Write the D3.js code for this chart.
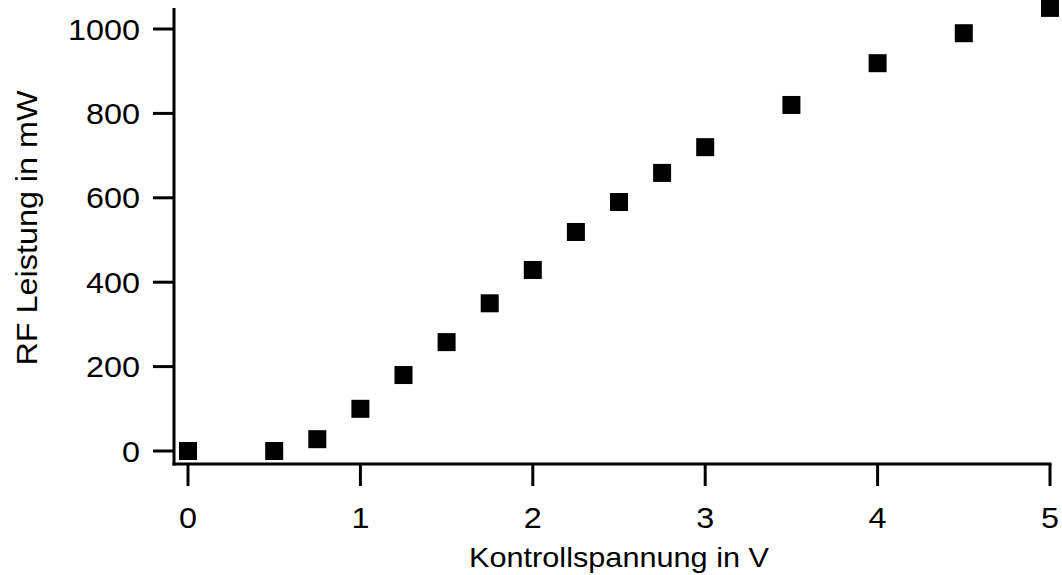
<!DOCTYPE html>
<html>
<head>
<meta charset="utf-8">
<script src="https://cdn.jsdelivr.net/npm/d3@7.9.0/dist/d3.min.js"></script>
<style>
  body { margin: 0; background: #fff; }
  svg { display: block; font-family: "Liberation Sans", Arial, sans-serif; }
</style>
</head>
<body>
<svg width="1062" height="575"></svg>
<script>
// data
const voltage = [0, 0.5, 0.75, 1, 1.25, 1.5, 1.75, 2, 2.25, 2.5, 2.75, 3, 3.5, 4, 4.5, 5];
const power   = [0, 0, 28, 100, 180, 258, 350, 429, 519, 590, 659, 720, 820, 919, 990, 1050];
const xTicks = [0, 1, 2, 3, 4, 5];
const yTicks = [0, 200, 400, 600, 800, 1000];

const svg = d3.select('svg');

let x = d3.scaleLinear().domain([0, 5]).range([188, 1050]);
let y = d3.scaleLinear().domain([0, 1000]).range([451, 29]);

const axisX = 174, axisY = 464, topY = 8;
const fs = 29.5;

// axis lines
svg.append('line')
    .attr('x1', axisX).attr('x2', axisX)
    .attr('y1', topY).attr('y2', axisY + 1.5)
    .attr('stroke', '#000').attr('stroke-width', 3);
svg.append('line')
    .attr('x1', axisX - 1.5).attr('x2', x(5) + 1.5)
    .attr('y1', axisY).attr('y2', axisY)
    .attr('stroke', '#000').attr('stroke-width', 3);

// x ticks
xTicks.forEach(t => {
    svg.append('line')
        .attr('x1', x(t)).attr('x2', x(t))
        .attr('y1', axisY).attr('y2', 486)
        .attr('stroke', '#000').attr('stroke-width', 3);
    svg.append('text')
        .attr('x', x(t)).attr('y', 528)
        .attr('text-anchor', 'middle')
        .style('font-size', fs + 'px')
        .attr('textLength', 18)
        .attr('lengthAdjust', 'spacingAndGlyphs')
        .text(t);
});

// y ticks
yTicks.forEach(t => {
    svg.append('line')
        .attr('x1', 153).attr('x2', axisX)
        .attr('y1', y(t)).attr('y2', y(t))
        .attr('stroke', '#000').attr('stroke-width', 3);
    let label = String(t);
    svg.append('text')
        .attr('x', 140).attr('y', y(t) + 10.5)
        .attr('text-anchor', 'end')
        .style('font-size', fs + 'px')
        .attr('textLength', 18 * label.length)
        .attr('lengthAdjust', 'spacingAndGlyphs')
        .text(label);
});

// axis titles
svg.append('text')
    .attr('x', x(2.5)).attr('y', 567)
    .attr('text-anchor', 'middle')
    .style('font-size', '28px')
    .attr('textLength', 300)
    .attr('lengthAdjust', 'spacingAndGlyphs')
    .text('Kontrollspannung in V');

svg.append('text')
    .attr('transform', 'translate(37,228) rotate(-90)')
    .attr('text-anchor', 'middle')
    .style('font-size', '29px')
    .attr('textLength', 275)
    .attr('lengthAdjust', 'spacingAndGlyphs')
    .text('RF Leistung in mW');

// markers
const s = 18;
svg.append('g').selectAll('rect')
    .data(voltage.map((v, i) => ({ v, p: power[i] })))
    .join('rect')
    .attr('x', d => x(d.v) - s / 2)
    .attr('y', d => y(d.p) - s / 2)
    .attr('width', s).attr('height', s)
    .attr('fill', '#000');
</script>
</body>
</html>
